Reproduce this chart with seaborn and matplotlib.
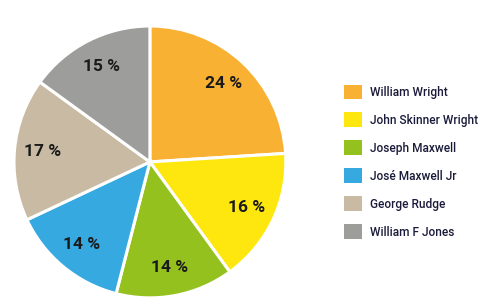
import matplotlib
matplotlib.use("Agg")
import matplotlib.pyplot as plt
import seaborn as sns

# data
names = ["William Wright", "John Skinner Wright", "Joseph Maxwell",
         "José Maxwell Jr", "George Rudge", "William F Jones"]
shares = [24, 16, 14, 14, 17, 15]
colors = ["#F8B133", "#FDE70F", "#95C11F", "#36A9E1", "#C9BBA3", "#9D9D9C"]

sns.set_style("white")
plt.rcParams['font.family'] = ['Roboto', 'DejaVu Sans']

fig = plt.figure(figsize=(4.82, 3.01), dpi=100)
ax = fig.add_axes([0.029, 0.01, 0.564, 0.904])

wedges, texts, autotexts = ax.pie(
    shares, colors=colors, startangle=90, counterclock=False,
    autopct=lambda p: f"{p:.0f} %", pctdistance=0.79,
    wedgeprops=dict(edgecolor="white", linewidth=2.2),
    textprops=dict(fontsize=12.5, fontweight="bold", color="#1a1a1a"),
)
ax.set_xlim(-1, 1)
ax.set_ylim(-1, 1)
ax.set_aspect("equal")

leg = fig.legend(wedges, names, loc="upper left", bbox_to_anchor=(0.703, 0.735),
                 frameon=False, prop=dict(size=8.6, weight="medium"),
                 handlelength=1.5, handleheight=1.5,
                 handletextpad=0.7, labelspacing=1.12, borderaxespad=0)
for h in leg.legend_handles:
    h.set_edgecolor("none")
for t in leg.get_texts():
    t.set_color("#1a1a3a")

fig.savefig("out.png", dpi=100)
